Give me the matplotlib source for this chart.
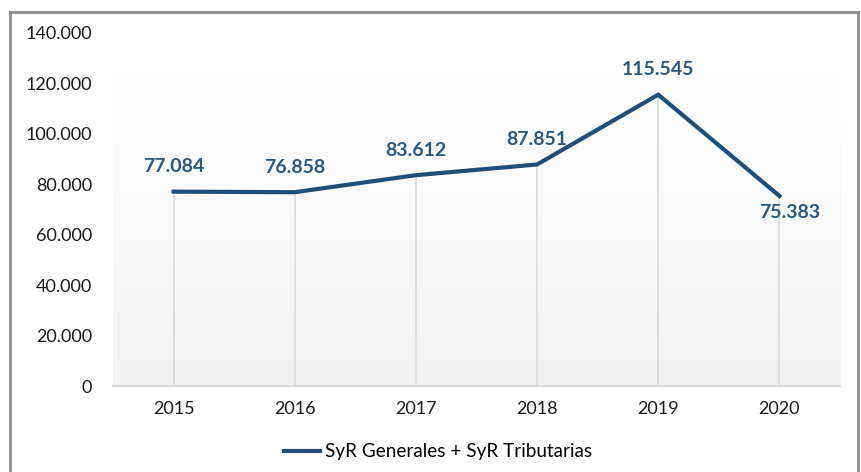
import numpy as np
import matplotlib.pyplot as plt
from matplotlib.lines import Line2D
from matplotlib.ticker import FuncFormatter

years = ['2015', '2016', '2017', '2018', '2019', '2020']
values = [77084, 76858, 83612, 87851, 115545, 75383]
series_name = 'SyR Generales + SyR Tributarias'

line_color = '#1f4e79'
label_color = '#2a5783'

plt.rcParams['font.family'] = ['Lato', 'DejaVu Sans']

fig = plt.figure(figsize=(8.61, 4.72), dpi=100)
ax = fig.add_axes([0.1312, 0.1822, 0.8444, 0.7479])

x = np.arange(len(years)) + 0.5
ax.set_xlim(0, len(years))
ax.set_ylim(0, 140000)

# gradient fill of plot area
grad = np.linspace(0, 1, 256).reshape(-1, 1)
top_c = np.array([0xff, 0xff, 0xff]) / 255
bot_c = np.array([0xf2, 0xf2, 0xf2]) / 255
img = bot_c + (top_c - bot_c) * grad[..., None]
img = np.repeat(img, 2, axis=1)
ax.imshow(img, extent=(0, len(years), 0, 124600), origin='lower',
          aspect='auto', zorder=0)

# drop lines
ax.vlines(x, 0, values, color='#d9d9d9', lw=1.2, zorder=1)

ax.plot(x, values, color=line_color, lw=3, solid_joinstyle='miter', zorder=3,
        label=series_name)

for i, (xi, v) in enumerate(zip(x, values)):
    txt = f'{v:,}'.replace(',', '.')
    if i == len(values) - 1:
        off = (7, -12)
    else:
        off = (0, 18)
    ax.annotate(txt, (xi, v), xytext=off, textcoords='offset points',
                ha='center', va='center', color=label_color, fontsize=14,
                fontweight='bold', zorder=4)

ax.set_xticks(x)
ax.set_xticklabels(years)
ax.set_yticks(np.arange(0, 140001, 20000))
ax.yaxis.set_major_formatter(FuncFormatter(lambda v, p: f'{int(v):,}'.replace(',', '.')))
ax.tick_params(axis='both', length=0, labelsize=13, colors='#1a1a1a')
ax.tick_params(axis='y', pad=15)
ax.tick_params(axis='x', pad=11)

for s in ['top', 'right', 'left']:
    ax.spines[s].set_visible(False)
ax.spines['bottom'].set_color('#d9d9d9')
ax.spines['bottom'].set_linewidth(1.5)
ax.set_facecolor('white')

ax.legend(loc='center', bbox_to_anchor=(438 / 861, 1 - 452 / 472),
          bbox_transform=fig.transFigure, frameon=False,
          fontsize=13.6, handlelength=1.9, handletextpad=0.25)

# outer frame of the chart
for xs, ys in [([9.5 / 861, 9.5 / 861], [0, 1 - 11.5 / 472]),
               ([9.5 / 861, 857.5 / 861], [1 - 11.5 / 472, 1 - 11.5 / 472]),
               ([857.5 / 861, 857.5 / 861], [0, 1 - 11.5 / 472])]:
    fig.add_artist(Line2D(xs, ys, color='#8c8c8c', lw=2, transform=fig.transFigure))

fig.savefig('out.png', dpi=100)
